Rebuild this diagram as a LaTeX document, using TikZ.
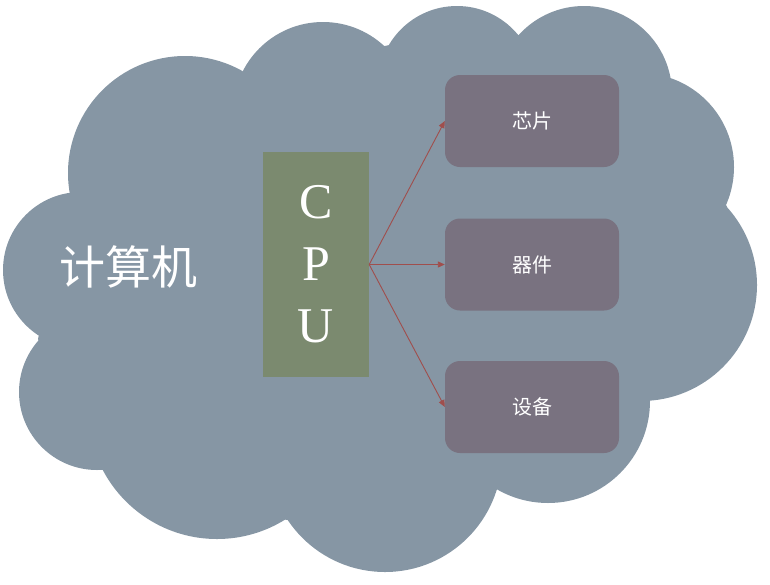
\documentclass[tikz,border=0pt]{standalone}
\usepackage{fontspec}
\setmainfont{Liberation Serif}
\newfontfamily\cjk{Noto Sans CJK SC}
\usetikzlibrary{arrows.meta}
\definecolor{cloudc}{RGB}{134,150,164}
\definecolor{cpuc}{RGB}{123,138,111}
\definecolor{boxc}{RGB}{121,114,128}
\definecolor{arrc}{RGB}{160,78,76}
\tikzset{
  lobe/.style={fill=cloudc},
  cpubox/.style={fill=cpuc, minimum width=106pt, minimum height=225pt, inner sep=0pt,
    text=white, align=center, font=\fontsize{50}{62}\selectfont},
  partbox/.style={fill=boxc, rounded corners=15pt, minimum width=174pt, minimum height=92pt,
    inner sep=0pt, text=white, font=\cjk\fontsize{20}{24}\selectfont},
  link/.style={draw=arrc, line width=0.9pt, -{Triangle[length=7pt,width=6pt]}}
}
\begin{document}
\begin{tikzpicture}[x=1pt,y=-1pt]
\useasboundingbox (0,0) rectangle (770,584);
% cloud as union of lobes
\fill[lobe] (70,193) -- (245,71) -- (390,45) -- (518,35) -- (665,77) -- (727,207)
  -- (650,400) -- (497,489) -- (287,520) -- (103,470) -- (38,339) -- cycle;
\fill[lobe] (185,173) circle[radius=117];
\fill[lobe] (323,112) circle[radius=90];
\fill[lobe] (457,85) circle[radius=79];
\fill[lobe] (584,94) circle[radius=88];
\fill[lobe] (640,167) circle[radius=94];
\fill[lobe] (641,285) circle[radius=116];
\fill[lobe] (548,401) circle[radius=102];
\fill[lobe] (385,455) circle[radius=117];
\fill[lobe] (217,410) circle[radius=129];
\fill[lobe] (97,392) circle[radius=78];
\fill[lobe] (81,270) circle[radius=78];
% title
\node[text=white, font=\cjk\fontsize{46}{50}\selectfont] (title) at (128,267) {计算机};
% CPU
\node[cpubox] (cpu) at (316,264.5) {C\\P\\U};
% parts
\node[partbox] (chip) at (532,121) {芯片};
\node[partbox] (dev) at (532,264.5) {器件};
\node[partbox] (equip) at (532,407) {设备};
% connectors
\draw[link] (cpu.east) -- (chip.west);
\draw[link] (cpu.east) -- (dev.west);
\draw[link] (cpu.east) -- (equip.west);
\end{tikzpicture}
\end{document}
